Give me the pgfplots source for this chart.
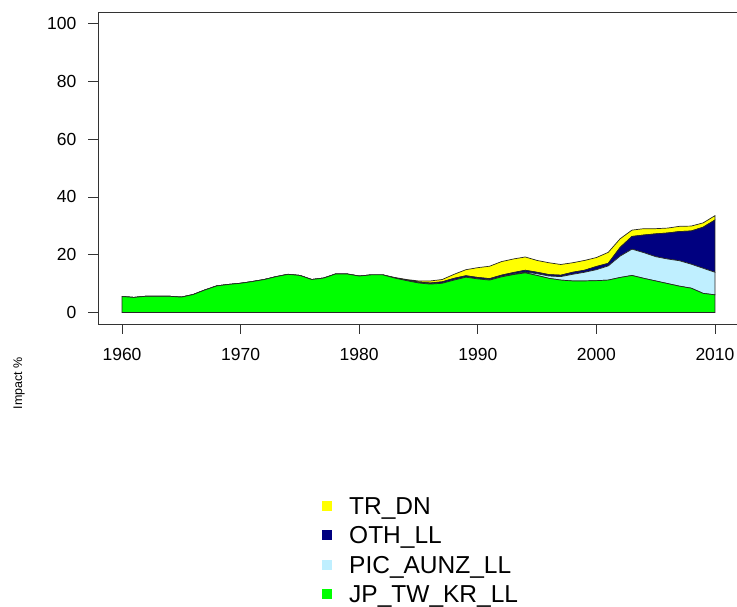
\documentclass[border=0pt]{standalone}
\usepackage{pgfplots}
\usepackage{pgfplotstable}
\pgfplotsset{compat=1.18}
\usepackage{fontspec}
\setmainfont{Liberation Sans}
\definecolor{rgreen}{RGB}{0,255,0}
\definecolor{rlblue}{RGB}{191,239,255}
\definecolor{rnavy}{RGB}{0,0,128}
\definecolor{ryellow}{RGB}{255,255,0}
\pgfplotstableread{
year JP PIC OTH TR
1960 5.5 0 0 0
1961 5.2 0 0 0
1962 5.6 0 0 0
1963 5.6 0 0 0
1964 5.6 0 0 0
1965 5.3 0 0 0
1966 6.2 0 0 0
1967 7.8 0 0 0
1968 9.2 0 0 0
1969 9.7 0 0 0
1970 10.1 0 0 0
1971 10.7 0 0 0
1972 11.4 0 0 0
1973 12.4 0 0 0
1974 13.2 0 0 0
1975 12.8 0 0 0
1976 11.4 0 0 0
1977 11.9 0 0 0
1978 13.3 0 0 0
1979 13.3 0 0 0
1980 12.6 0 0 0
1981 13.0 0 0 0
1982 13.0 0 0 0
1983 11.9 0 0.1 0.1
1984 11.0 0 0.2 0.2
1985 10.2 0 0.3 0.4
1986 9.8 0 0.4 0.7
1987 10.1 0 0.5 0.8
1988 11.2 0 0.6 1.4
1989 12.2 0 0.5 2.1
1990 11.6 0 0.5 3.4
1991 11.2 0 0.5 4.3
1992 12.3 0.1 0.5 4.7
1993 13.1 0.2 0.5 4.7
1994 13.7 0.3 0.6 4.6
1995 12.8 0.6 0.5 4.1
1996 11.8 0.8 0.5 4.1
1997 11.2 1.2 0.5 3.7
1998 10.9 2.3 0.7 3.3
1999 10.9 3.0 0.7 3.4
2000 11.0 3.8 1.1 3.1
2001 11.2 4.9 0.9 3.8
2002 12.1 7.4 3.0 3.0
2003 12.8 9.1 4.4 2.2
2004 11.8 8.9 6.1 2.2
2005 10.9 8.4 7.9 1.8
2006 10.0 8.5 9.0 1.7
2007 9.1 8.8 10.1 1.8
2008 8.4 8.3 11.5 1.7
2009 6.6 8.7 14.2 1.5
2010 6.1 7.8 18.1 1.5
}\datatable
\begin{document}
\begin{tikzpicture}
\useasboundingbox (0pt,0pt) rectangle (737pt,607pt);
\begin{axis}[
  at={(98.3pt,283pt)}, anchor=south west,
  scale only axis, width=640.4pt, height=312pt,
  xmin=1958, xmax=2012, ymin=-4, ymax=104,
  xtick={1960,1970,...,2010}, ytick={0,20,...,100},
  xtick pos=bottom, ytick pos=left,
  tick align=outside, major tick length=10pt,
  tick style={black!80, line width=0.7pt},
  axis line style={black!80, line width=0.7pt},
  /pgf/number format/assume math mode=true,
  xticklabel style={/pgf/number format/1000 sep=, font=\fontsize{17.5}{20}\selectfont, yshift=-11pt},
  yticklabel style={font=\fontsize{17.5}{20}\selectfont, xshift=-8.5pt},
  ylabel={Impact \%},
  ylabel style={at={(rel axis cs:-0.1238,-0.19)}, anchor=center, rotate=0, font=\fontsize{12.5}{14}\selectfont},
  stack plots=y,
  legend cell align=left,
  legend image code/.code={\fill[#1,draw=none] (0pt,-5pt) rectangle (10pt,5pt);},
  legend style={at={(rel axis cs:0.3493,-0.5545)}, anchor=north west, draw=none, fill=none,
    inner sep=0pt, font=\fontsize{24.5}{28}\selectfont, row sep=12.5pt, column sep=17pt,
    nodes={inner sep=0pt, text depth=0pt}},
  reverse legend,
]
\addplot[fill=rgreen, draw=black!85, line width=0.7pt] table[x=year,y=JP] {\datatable} \closedcycle;
\addlegendentry{JP\_TW\_KR\_LL}
\addplot[fill=rlblue, draw=black!85, line width=0.7pt] table[x=year,y=PIC] {\datatable} \closedcycle;
\addlegendentry{PIC\_AUNZ\_LL}
\addplot[fill=rnavy, draw=black!85, line width=0.7pt] table[x=year,y=OTH] {\datatable} \closedcycle;
\addlegendentry{OTH\_LL}
\addplot[fill=ryellow, draw=black!85, line width=0.7pt] table[x=year,y=TR] {\datatable} \closedcycle;
\addlegendentry{TR\_DN}
\end{axis}
\end{tikzpicture}
\end{document}
